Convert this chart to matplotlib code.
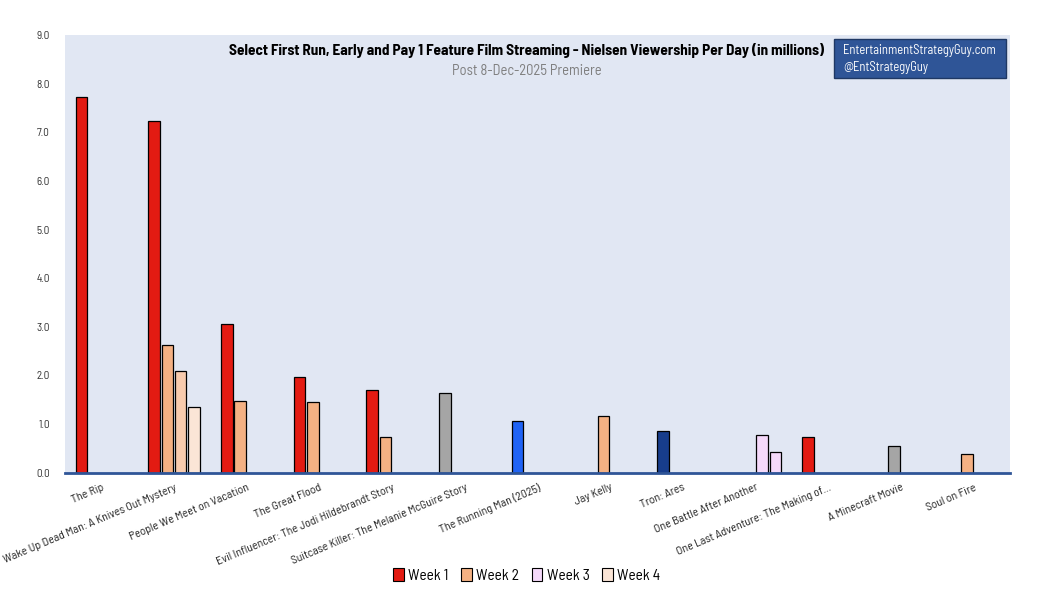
import numpy as np
import matplotlib
matplotlib.use("Agg")
import matplotlib.pyplot as plt
from matplotlib.patches import Patch, Rectangle

# narrow DIN-like face, falls back to DejaVu if missing
plt.rcParams["font.family"] = ["Barlow Semi Condensed", "DejaVu Sans"]

# ---- data ----
films = [
    "The Rip",
    "Wake Up Dead Man: A Knives Out Mystery",
    "People We Meet on Vacation",
    "The Great Flood",
    "Evil Influencer: The Jodi Hildebrandt Story",
    "Suitcase Killer: The Melanie McGuire Story",
    "The Running Man (2025)",
    "Jay Kelly",
    "Tron: Ares",
    "One Battle After Another",
    "One Last Adventure: The Making of...",
    "A Minecraft Movie",
    "Soul on Fire",
]
week1 = [7.73, 7.24, 3.05, 1.96, 1.71, 1.63, 1.06, None, 0.85, None, 0.73, None, None]
week2 = [None, 2.62, 1.47, 1.45, 0.73, None, None, 1.16, None, None, None, 0.54, 0.38]
week3 = [None, 2.10, None, None, None, None, None, None, None, 0.77, None, None, None]
week4 = [None, 1.36, None, None, None, None, None, None, None, 0.42, None, None, None]
weeks = ["Week 1", "Week 2", "Week 3", "Week 4"]
y_ticks = [0, 1, 2, 3, 4, 5, 6, 7, 8, 9]

# ---- colours (the source overrides some bars individually) ----
RED = "#E31B12"
PEACH = "#F4B183"
PEACH_LT = "#F8CBAD"
PEACH_XLT = "#FBE5D6"
PINK = "#F5D9FA"
GREY = "#A5A5A5"
BLUE = "#1F63F5"
NAVY = "#173D8C"
legend_colors = [RED, PEACH, PINK, PEACH_XLT]

w1_colors = [RED, RED, RED, RED, RED, GREY, BLUE, RED, NAVY, RED, RED, RED, RED]
w2_colors = [PEACH] * 11 + [GREY, PEACH]
w3_colors = [PEACH_LT] * 9 + [PINK] + [PEACH_LT] * 3
w4_colors = [PEACH_XLT] * 9 + [PINK] + [PEACH_XLT] * 3

fig = plt.figure(figsize=(10.41, 6.10), dpi=100)
ax = fig.add_axes([0.0624, 0.2251, 0.9078, 0.7175])
ax.set_facecolor("#E1E7F3")

x = np.arange(len(films))
slot = 0.183
bar_w = 0.16
series = [(week1, w1_colors), (week2, w2_colors), (week3, w3_colors), (week4, w4_colors)]
for k, (vals, cols) in enumerate(series):
    offset = (k - 1.5) * slot
    for i, v in enumerate(vals):
        if v is None:
            continue
        ax.bar(x[i] + offset, v, width=bar_w, color=cols[i],
               edgecolor="black", linewidth=0.9, zorder=3)

ax.set_xlim(-0.5, len(films) - 0.5)
ax.set_ylim(0, 9)
ax.set_yticks(y_ticks)
ax.set_yticklabels([f"{t:.1f}" for t in y_ticks], fontsize=8, color="#333333")
ax.set_xticks(x)
ax.set_xticklabels(films, rotation=23, ha="right", va="top",
                   rotation_mode="anchor", fontsize=8.5, color="#222222")
ax.tick_params(axis="both", length=0)
ax.tick_params(axis="y", pad=11)
ax.tick_params(axis="x", pad=7)

for side in ["top", "right", "left"]:
    ax.spines[side].set_visible(False)
ax.spines["bottom"].set_color("#2F5597")
ax.spines["bottom"].set_linewidth(2)
ax.spines["bottom"].set_zorder(4)

# ---- titles ----
fig.text(0.506, 0.918, "Select First Run, Early and Pay 1 Feature Film Streaming - Nielsen Viewership Per Day (in millions)",
         ha="center", va="center", fontsize=11, fontweight="bold", color="black")
fig.text(0.506, 0.883, "Post 8-Dec-2025 Premiere", ha="center", va="center",
         fontsize=10.5, color="#7F7F7F")

# ---- watermark box ----
fig.patches.append(Rectangle((0.801, 0.872), 0.165, 0.064, transform=fig.transFigure,
                             facecolor="#2F5597", edgecolor="#1F3864", linewidth=1, zorder=5))
fig.text(0.810, 0.918, "EntertainmentStrategyGuy.com", ha="left", va="center",
         fontsize=9, color="white", zorder=6)
fig.text(0.810, 0.890, "@EntStrategyGuy", ha="left", va="center",
         fontsize=9, color="white", zorder=6)

# ---- legend ----
handles = [Patch(facecolor=c, edgecolor="black", linewidth=0.8) for c in legend_colors]
fig.legend(handles, weeks, loc="center", bbox_to_anchor=(0.506, 0.057), ncol=4,
           frameon=False, fontsize=11, handlelength=0.7, handleheight=0.9,
           handletextpad=0.3, columnspacing=0.8)

fig.savefig("out.png", dpi=100)
